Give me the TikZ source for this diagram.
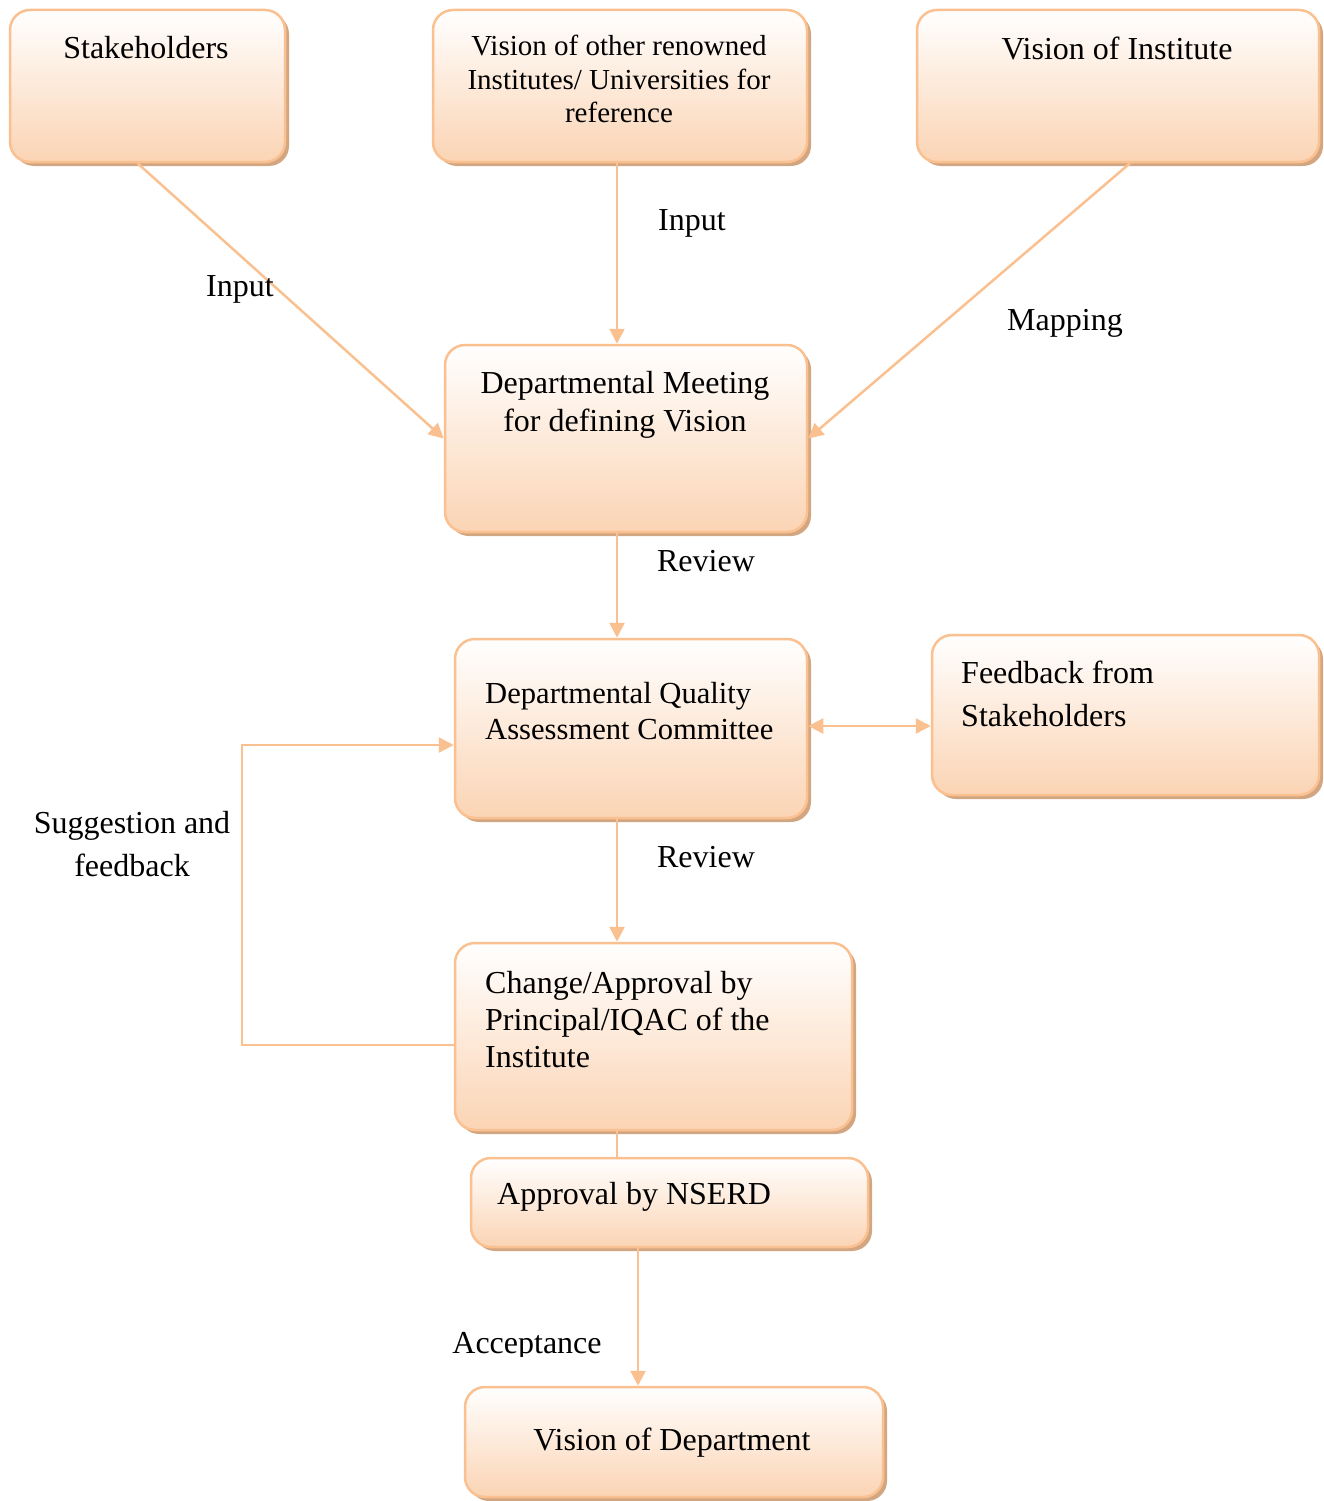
\documentclass[tikz,border=0pt]{standalone}
\usepackage{fontspec}
\setmainfont{Liberation Serif}
\usetikzlibrary{shadows,arrows.meta,calc}
\definecolor{bord}{RGB}{250,192,144}
\definecolor{fillb}{RGB}{251,212,180}
\definecolor{shad}{RGB}{211,166,130}
\begin{document}
\begin{tikzpicture}[x=1pt,y=-1pt,
  box/.style={draw=bord, line width=2.5pt, rounded corners=20pt, top color=white, bottom color=fillb,
    drop shadow={shadow xshift=4pt, shadow yshift=-4pt, fill=shad, opacity=1}, inner sep=0pt},
  conn/.style={draw=bord, line width=2.5pt},
  arr/.style={conn, -{Triangle[length=15pt,width=15pt]}},
  darr/.style={conn, {Triangle[length=15pt,width=15pt]}-{Triangle[length=15pt,width=15pt]}},
  txt/.style={font=\fontsize{32}{38}\selectfont, inner sep=0pt, text=black}]
\useasboundingbox (0,0) rectangle (1323,1501);
% boxes
\node[box, minimum width=275pt, minimum height=152pt] (stake) at (147.5,86) {};
\node[box, minimum width=374pt, minimum height=152pt] (other) at (620,86) {};
\node[box, minimum width=402pt, minimum height=152pt] (inst) at (1118,86) {};
\node[box, minimum width=362pt, minimum height=187pt] (meet) at (626,438.5) {};
\node[box, minimum width=352pt, minimum height=179pt] (dqac) at (631,728.5) {};
\node[box, minimum width=387pt, minimum height=160pt] (feed) at (1125.5,715) {};
\node[box, minimum width=397pt, minimum height=187pt] (change) at (653.5,1036.5) {};
\node[box, minimum width=397pt, minimum height=89pt] (nserd) at (669.5,1202.5) {};
\node[box, minimum width=418pt, minimum height=110pt] (vdept) at (674,1442) {};
% box texts
\node[txt] (t1) at (146,48) {Stakeholders};
\node[txt, font=\fontsize{29}{33.5}\selectfont, align=center] (t2) at (619,79) {Vision of other renowned\\Institutes/ Universities for\\reference};
\node[txt] (t3) at (1117,48) {Vision of Institute};
\node[txt, align=center] (t4) at (625,405) {Departmental Meeting\\for defining Vision};
\node[txt, align=left, anchor=west, font=\fontsize{30.6}{36}\selectfont] (t5) at (485,711) {Departmental Quality\\Assessment Committee};
\node[txt, align=left, anchor=west, font=\fontsize{32}{43}\selectfont] (t6) at (961,694) {Feedback from\\Stakeholders};
\node[txt, align=left, anchor=west, font=\fontsize{32}{37}\selectfont] (t7) at (485,1020) {Change/Approval by\\Principal/IQAC of the\\Institute};
\node[txt, anchor=west] (t8) at (497,1197) {Approval by NSERD};
\node[txt] (t9) at (672,1443) {Vision of Department};
% connectors
\draw[arr] ([xshift=-10pt]stake.south) -- (meet.west);
\draw[arr] ([xshift=-3pt]other.south) -- ([xshift=-3pt]other.south |- meet.north);
\draw[arr] ([xshift=12pt]inst.south) -- (meet.east);
\draw[arr] ([xshift=-9pt]meet.south) -- ([xshift=-9pt]meet.south |- dqac.north);
\draw[darr] ([yshift=2.5pt]dqac.east) -- ([yshift=2.5pt]dqac.east -| feed.west);
\draw[arr] ([xshift=-14pt]dqac.south) -- ([xshift=-14pt]dqac.south |- change.north);
\coordinate (fbk) at (242,745);
\draw[arr] ([yshift=-8.5pt]change.west) -| (fbk) -- (fbk -| dqac.west);
\draw[conn] ([xshift=-36.5pt]change.south) -- ([xshift=-36.5pt]change.south |- nserd.north);
\draw[arr] ([xshift=-31.5pt]nserd.south) -- ([xshift=-31.5pt]nserd.south |- vdept.north);
% labels
\node[txt] (l1) at (240,289) {Input};
\node[txt] (l2) at (692,223) {Input};
\node[txt] (l3) at (1065,323) {Mapping};
\node[txt] (l4) at (706,561) {Review};
\node[txt] (l5) at (706,857) {Review};
\node[txt, align=center, font=\fontsize{32}{43}\selectfont] (l6) at (132,844) {Suggestion and\\feedback};
\begin{scope}
\clip (400,1300) rectangle (620,1356);
\node[txt] (l7) at (527,1346) {Acceptance};
\end{scope}
\end{tikzpicture}
\end{document}
